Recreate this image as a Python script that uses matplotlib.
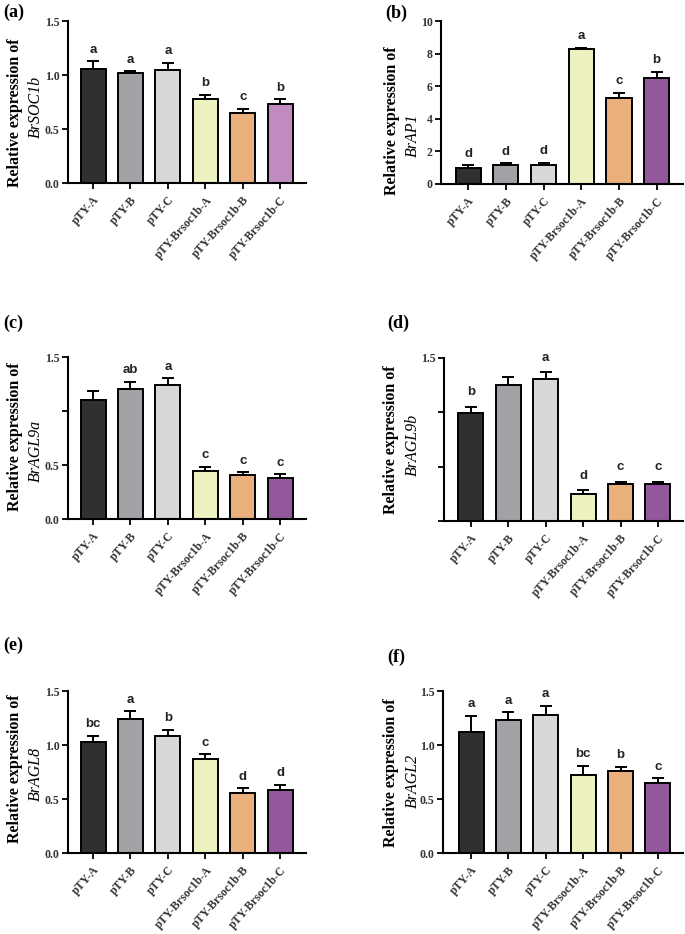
import numpy as np
import matplotlib
matplotlib.use('Agg')
import matplotlib.pyplot as plt

# Grupos (los mismos en los seis paneles)
groups = ['pTY-A', 'pTY-B', 'pTY-C', 'pTY-Brsoc1b-A', 'pTY-Brsoc1b-B', 'pTY-Brsoc1b-C']

# (a) BrSOC1b
soc1b_mean = [1.051, 1.023, 1.045, 0.778, 0.645, 0.728]
soc1b_err = [0.077, 0.013, 0.068, 0.037, 0.040, 0.047]
soc1b_let = ['a', 'a', 'a', 'b', 'c', 'b']

# (b) BrAP1
ap1_mean = [0.96, 1.16, 1.18, 8.29, 5.29, 6.49]
ap1_err = [0.20, 0.11, 0.13, 0.06, 0.31, 0.41]
ap1_let = ['d', 'd', 'd', 'a', 'c', 'b']

# (c) BrAGL9a
agl9a_mean = [1.10, 1.20, 1.24, 0.449, 0.403, 0.384]
agl9a_err = [0.087, 0.071, 0.064, 0.037, 0.030, 0.031]
agl9a_let = ['', 'ab', 'a', 'c', 'c', 'c']

# (d) BrAGL9b
agl9b_mean = [0.992, 1.253, 1.309, 0.253, 0.345, 0.345]
agl9b_err = [0.061, 0.071, 0.058, 0.030, 0.018, 0.018]
agl9b_let = ['b', '', 'a', 'd', 'c', 'c']

# (e) BrAGL8
agl8_mean = [1.030, 1.242, 1.082, 0.873, 0.559, 0.587]
agl8_err = [0.055, 0.071, 0.058, 0.040, 0.040, 0.046]
agl8_let = ['bc', 'a', 'b', 'c', 'd', 'd']

# (f) BrAGL2
agl2_mean = [1.116, 1.233, 1.279, 0.725, 0.756, 0.652]
agl2_err = [0.154, 0.070, 0.086, 0.083, 0.040, 0.040]
agl2_let = ['a', 'a', 'a', 'bc', 'b', 'c']

colors = ['#303030', '#a2a2a6', '#d8d8d8', '#eef2c0', '#e9b07c', '#93579b']
colors_a = ['#303030', '#a2a2a6', '#d8d8d8', '#eef2c0', '#e9b07c', '#c08cc0']

W, H = 685, 934
fig = plt.figure(figsize=(W / 100, H / 100), dpi=100)
serif = 'Liberation Serif'
sans = 'Liberation Sans'


def px_axes(left, right, top, bottom):
    return fig.add_axes([left / W, 1 - bottom / H, (right - left) / W, (bottom - top) / H])


def panel(box, xlim, mean, err, letters, cols, ymax, yticks, yticklabels,
          gene, tag, tag_xy, lab_x, lab_y, lab_off=4):
    ax = px_axes(*box)
    x = np.arange(len(groups))
    ax.bar(x, mean, width=0.67, color=cols, edgecolor='black', linewidth=1.4, zorder=2)
    ax.errorbar(x, mean, yerr=[np.zeros(len(err)), err], fmt='none', ecolor='black',
                elinewidth=1.4, capsize=4, capthick=1.4, zorder=1)
    for xi, m, e, t in zip(x, mean, err, letters):
        if t:
            ax.annotate(t, (xi, m + e), xytext=(0, lab_off), textcoords='offset points',
                        ha='center', va='bottom', fontsize=9.5, fontweight='bold',
                        family=sans, color='#222222')
    ax.set_xlim(*xlim)
    ax.set_ylim(0, ymax)
    ax.set_yticks(yticks)
    ax.set_yticklabels(yticklabels, fontsize=8.5, fontweight='bold', family=serif, color='#333333')
    ax.set_xticks(x)
    ax.set_xticklabels(groups, rotation=48, ha='right', rotation_mode='anchor',
                       fontsize=8.5, fontweight='bold', family=serif, color='#333333')
    ax.spines['top'].set_visible(False)
    ax.spines['right'].set_visible(False)
    ax.spines['left'].set_linewidth(1.5)
    ax.spines['bottom'].set_linewidth(1.5)
    ax.tick_params(axis='both', width=1.3, length=4, direction='out', pad=2)
    ax.tick_params(axis='x', pad=4)
    # etiqueta del eje y en dos líneas
    fig.text(lab_x[0] / W, 1 - lab_y[0] / H, 'Relative expression of', rotation=90,
             ha='center', va='center', fontsize=11.5, fontweight='bold', family=serif)
    fig.text(lab_x[1] / W, 1 - lab_y[1] / H, gene, rotation=90, ha='center', va='center',
             fontsize=11.5, style='italic', family=serif)
    fig.text(tag_xy[0] / W, 1 - tag_xy[1] / H, tag, ha='left', va='center',
             fontsize=13, fontweight='bold', family=serif)
    return ax


t15 = [0, 0.5, 1.0, 1.5]
lab15 = ['0.0', '0.5', '1.0', '1.5']

panel((68, 306, 21, 183), (-0.67, 5.69), soc1b_mean, soc1b_err, soc1b_let, colors_a,
      1.5, t15, lab15, 'BrSOC1b', '(a)', (3, 12), (15, 36), (113, 107))
panel((441, 683, 21, 184), (-0.72, 5.7), ap1_mean, ap1_err, ap1_let, colors,
      10, [0, 2, 4, 6, 8, 10], ['0', '2', '4', '6', '8', '10'], 'BrAP1', '(b)', (385, 13),
      (392, 413), (121, 135))
panel((68, 306, 357, 519), (-0.67, 5.69), agl9a_mean, agl9a_err, agl9a_let, colors,
      1.5, t15, ['0.0', '0.5', '', '1.5'], 'BrAGL9a', '(c)', (3, 323), (15, 36), (437, 451))
panel((444, 683, 358, 521), (-0.72, 5.67), agl9b_mean, agl9b_err, agl9b_let, colors,
      1.5, t15, ['', '', '', '1.5'], 'BrAGL9b', '(d)', (387, 323), (391, 413), (440, 445),
      lab_off=6)
panel((68, 306, 691, 853), (-0.67, 5.69), agl8_mean, agl8_err, agl8_let, colors,
      1.5, t15, lab15, 'BrAGL8', '(e)', (3, 645), (15, 36), (769, 774))
panel((443, 683, 691, 853), (-0.75, 5.67), agl2_mean, agl2_err, agl2_let, colors,
      1.5, t15, lab15, 'BrAGL2', '(f)', (387, 657), (391, 413), (773, 781))

fig.savefig('out.png', dpi=100)
